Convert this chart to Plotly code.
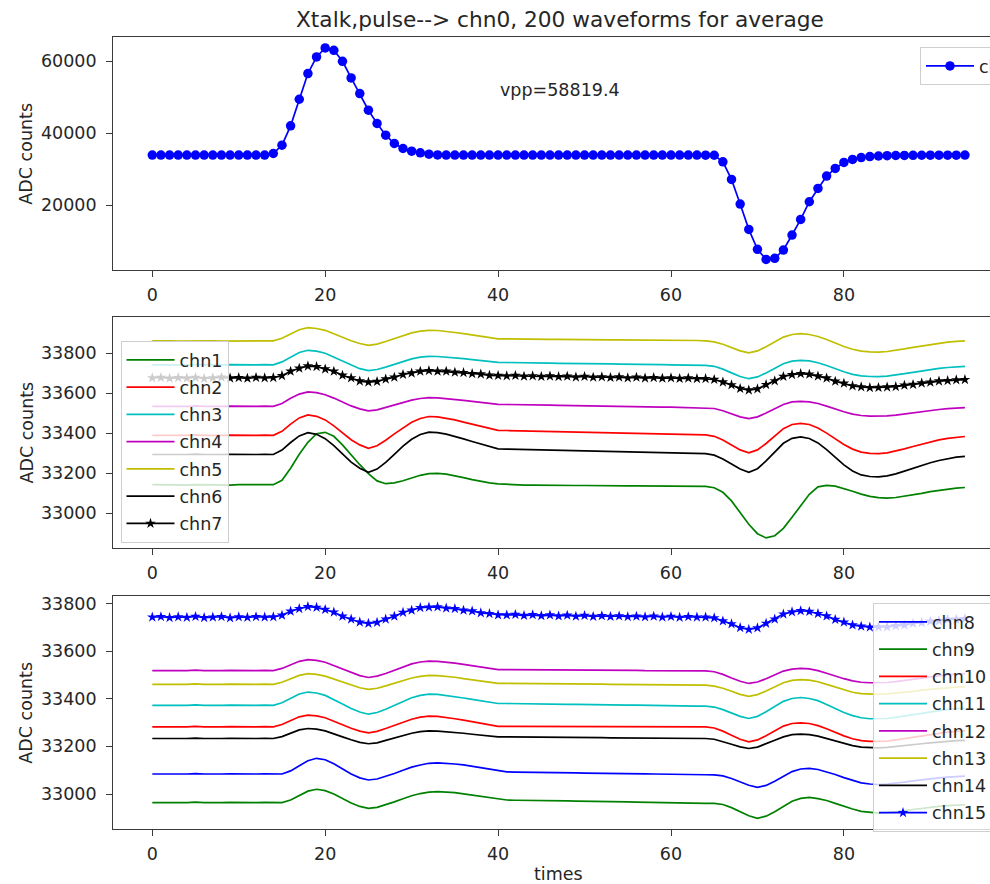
import plotly.graph_objects as go

# ---------------------------------------------------------------- data
times = list(range(95))

chn0 = [33900, 33905, 33898, 33902, 33900, 33897, 33903, 33900, 33899, 33901, 33904, 33898, 33900, 33902,
        34350, 36670, 42040, 49440, 56570, 61200, 63700.4, 63050, 60000, 55370, 51020, 46390, 42690, 39440,
        37130, 35740, 35000, 34540, 34170, 33950,
        33905, 33900, 33898, 33902, 33900, 33897, 33901, 33903, 33899, 33900, 33902, 33898, 33900, 33901,
        33899, 33903, 33900, 33898, 33902, 33900, 33899, 33901, 33897, 33900, 33902, 33900, 33898, 33901,
        33900, 33899, 33895,
        33860, 32040, 27130, 20280, 13240, 7690, 4881.0, 5190, 7500, 11670, 16020, 20930, 24630, 28060,
        30190, 31850, 32690, 33200, 33500, 33650,
        33740, 33790, 33820, 33845, 33860, 33872, 33880, 33888, 33893, 33896]

chn1 = [33143, 33142, 33144, 33142, 33141, 33143, 33142, 33144, 33142, 33141, 33143, 33142, 33142, 33143,
        33143, 33165, 33225, 33295, 33355, 33398, 33405, 33385, 33342, 33292, 33243, 33198, 33162, 33148,
        33152, 33163, 33177, 33190, 33198, 33200, 33196, 33188, 33178, 33168, 33159, 33152, 33147, 33144,
        33142,
        33141, 33141, 33140, 33140, 33140, 33139, 33139, 33139, 33138, 33138, 33138, 33138, 33137, 33137,
        33137, 33137, 33137, 33136, 33136, 33136, 33136,
        33135, 33128, 33105, 33062, 33005, 32945, 32898, 32877, 32888, 32925, 32980, 33040, 33095, 33132,
        33140, 33136, 33124, 33110, 33096, 33085, 33078, 33076, 33079, 33085, 33092, 33100, 33108, 33115,
        33121, 33126, 33129]

chn2 = [33390, 33391, 33389, 33390, 33390, 33392, 33390, 33389, 33390, 33391, 33390, 33389, 33390, 33391,
        33390, 33410, 33446, 33477, 33492,
        33485, 33467, 33437, 33402, 33368, 33342, 33325,
        33338, 33365, 33397, 33428, 33455, 33474, 33484,
        33482, 33476, 33467, 33456, 33445, 33434, 33424, 33415,
        33414, 33413, 33412, 33411, 33410, 33409, 33408, 33407, 33406, 33405, 33404, 33403, 33402, 33401,
        33400, 33399, 33398, 33397, 33396, 33395, 33394, 33393, 33393,
        33392,
        33385, 33367, 33342, 33317, 33302,
        33317, 33349, 33388, 33423, 33444, 33450,
        33444, 33427, 33401, 33371, 33344, 33321, 33306, 33300, 33298,
        33302, 33311, 33322, 33334, 33346, 33357, 33367, 33375, 33381, 33384]

chn3 = [33742, 33743, 33741, 33742, 33742, 33744, 33742, 33741, 33742, 33743, 33742, 33741, 33742, 33743,
        33742, 33757, 33782, 33804, 33815,
        33811, 33800, 33781, 33760, 33740, 33723, 33713,
        33719, 33731, 33745, 33760, 33772, 33781, 33785,
        33784, 33781, 33778, 33773, 33768, 33763, 33759, 33755,
        33754, 33754, 33753, 33752, 33752, 33751, 33750, 33750, 33749, 33749, 33748, 33747, 33747, 33746,
        33746, 33745, 33744, 33744, 33743, 33742, 33742, 33741, 33741,
        33740,
        33735, 33721, 33702, 33684, 33673,
        33682, 33702, 33726, 33748, 33761, 33765,
        33762, 33753, 33739, 33722, 33708, 33695, 33687, 33684, 33683,
        33686, 33691, 33698, 33705, 33712, 33719, 33725, 33729, 33733, 33735]

chn4 = [33535, 33536, 33534, 33535, 33535, 33537, 33535, 33534, 33535, 33536, 33535, 33534, 33535, 33536,
        33535, 33549, 33575, 33596, 33607,
        33603, 33593, 33576, 33556, 33537, 33522, 33512,
        33517, 33529, 33542, 33555, 33566, 33574, 33578,
        33577, 33574, 33570, 33565, 33560, 33554, 33549, 33545,
        33544, 33544, 33543, 33542, 33541, 33541, 33540, 33539, 33539, 33538, 33537, 33536, 33536, 33535,
        33534, 33534, 33533, 33532, 33531, 33531, 33530, 33529, 33529,
        33528,
        33524, 33513, 33497, 33482, 33473,
        33482, 33501, 33523, 33544, 33557, 33560,
        33557, 33549, 33536, 33521, 33508, 33496, 33489, 33486, 33485,
        33487, 33491, 33497, 33503, 33509, 33515, 33519, 33523, 33526, 33528]

chn5 = [33862, 33863, 33862, 33861, 33862, 33862, 33863, 33862, 33861, 33862, 33862, 33863, 33862, 33862,
        33862, 33875, 33898, 33918, 33928,
        33924, 33915, 33899, 33880, 33863, 33849, 33840,
        33846, 33859, 33874, 33889, 33902, 33911, 33915,
        33914, 33910, 33904, 33898, 33891, 33884, 33878, 33872,
        33872, 33871, 33871, 33871, 33870, 33870, 33870, 33869, 33869, 33869, 33868, 33868, 33867, 33867,
        33867, 33866, 33866, 33866, 33865, 33865, 33865, 33864, 33864,
        33862,
        33857, 33845, 33828, 33812, 33802,
        33812, 33833, 33858, 33881, 33894, 33898,
        33894, 33884, 33869, 33850, 33834, 33820, 33811, 33807, 33806,
        33809, 33814, 33822, 33830, 33837, 33845, 33851, 33856, 33860, 33862]

chn6 = [33294, 33295, 33293, 33294, 33294, 33296, 33294, 33293, 33294, 33295, 33294, 33293, 33294, 33295,
        33294, 33316, 33354, 33387, 33403,
        33395, 33373, 33338, 33296, 33256, 33225, 33205,
        33221, 33255, 33295, 33336, 33370, 33394, 33406,
        33403, 33396, 33385, 33372, 33359, 33346, 33333, 33322,
        33321, 33320, 33319, 33318, 33317, 33316, 33315, 33314, 33313, 33312, 33311, 33310, 33309, 33308,
        33307, 33306, 33305, 33304, 33303, 33302, 33301, 33300, 33299,
        33298,
        33291, 33272, 33246, 33221, 33205,
        33223, 33262, 33308, 33350, 33375, 33382,
        33374, 33352, 33318, 33278, 33242, 33212, 33192, 33184, 33182,
        33187, 33197, 33211, 33225, 33240, 33253, 33264, 33274, 33281, 33285]

chn7 = [33677, 33679, 33675, 33678, 33676, 33679, 33674, 33677, 33680, 33676, 33678, 33675, 33679, 33677,
        33678, 33688, 33710, 33725, 33736,
        33733, 33721, 33710, 33690, 33677, 33661, 33656,
        33659, 33671, 33680, 33694, 33701, 33710, 33713,
        33710, 33710, 33705, 33703, 33698, 33696, 33690, 33689,
        33687, 33689, 33685, 33687, 33684, 33686, 33683, 33685, 33681, 33684, 33680, 33682, 33679, 33681,
        33677, 33680, 33676, 33678, 33675, 33677, 33674, 33676, 33673,
        33673,
        33669, 33656, 33642, 33624, 33616,
        33622, 33643, 33662, 33684, 33693, 33698,
        33695, 33686, 33676, 33660, 33650, 33637, 33632, 33628, 33629,
        33631, 33633, 33640, 33644, 33651, 33655, 33661, 33663, 33667, 33668]

chn8 = [33084, 33085, 33083, 33084, 33084, 33086, 33084, 33083, 33084, 33085, 33084, 33083, 33084, 33085,
        33084,
        33084, 33097, 33120, 33140, 33150,
        33144, 33127, 33105, 33084, 33068, 33059,
        33063, 33073, 33086, 33100, 33113, 33122, 33129, 33131,
        33130, 33126, 33122, 33116, 33110, 33104, 33098, 33093,
        33092, 33092, 33091, 33091, 33090, 33090, 33089, 33089, 33088, 33088, 33087, 33087, 33086, 33086,
        33085, 33085, 33084, 33084, 33083, 33083, 33082, 33081, 33081,
        33080,
        33076, 33065, 33051, 33037, 33028,
        33036, 33054, 33074, 33094, 33105, 33108,
        33103, 33094, 33082, 33069, 33057, 33047, 33042, 33040,
        33042, 33045, 33050, 33055, 33060, 33064, 33068, 33071, 33074, 33075]

chn9 = [32964, 32965, 32963, 32964, 32964, 32966, 32964, 32963, 32964, 32965, 32964, 32963, 32964, 32965,
        32964,
        32964, 32975, 32995, 33012, 33020,
        33014, 33000, 32980, 32962, 32948, 32940,
        32944, 32954, 32967, 32980, 32993, 33002, 33008, 33010,
        33009, 33006, 33001, 32996, 32990, 32985, 32980, 32975,
        32974, 32974, 32973, 32973, 32972, 32971, 32971, 32970, 32970, 32969, 32968, 32968, 32967, 32967,
        32966, 32965, 32965, 32964, 32964, 32963, 32962, 32962, 32961,
        32961,
        32956, 32943, 32926, 32909, 32898,
        32907, 32926, 32949, 32970, 32982, 32986,
        32981, 32973, 32961, 32948, 32937, 32927, 32922, 32920,
        32922, 32925, 32930, 32935, 32940, 32944, 32948, 32951, 32954, 32955]

chn10 = [33282, 33283, 33281, 33282, 33282, 33284, 33282, 33281, 33282, 33283, 33282, 33281, 33282, 33283,
         33282, 33292, 33309, 33324, 33331,
         33328, 33320, 33307, 33291, 33276, 33264, 33257,
         33263, 33275, 33289, 33303, 33314, 33323, 33327,
         33326, 33322, 33316, 33310, 33303, 33296, 33290, 33284,
         33284, 33284, 33285, 33284, 33284, 33283, 33284, 33284, 33285, 33284, 33284, 33283, 33284, 33283,
         33283, 33284, 33283, 33283, 33282, 33283, 33283, 33282, 33283,
         33282,
         33277, 33264, 33247, 33230, 33219,
         33227, 33245, 33265, 33285, 33296, 33299,
         33296, 33287, 33274, 33258, 33244, 33232, 33224, 33221, 33220,
         33222, 33227, 33233, 33239, 33245, 33251, 33256, 33260, 33263, 33265]

chn11 = [33372, 33373, 33371, 33372, 33372, 33374, 33372, 33371, 33372, 33373, 33372, 33371, 33372, 33373,
         33372, 33383, 33403, 33420, 33428,
         33424, 33414, 33397, 33378, 33359, 33344, 33335,
         33342, 33356, 33373, 33390, 33404, 33414, 33419,
         33418, 33414, 33409, 33403, 33397, 33391, 33385, 33380,
         33380, 33379, 33379, 33378, 33378, 33377, 33377, 33376, 33376, 33375, 33375, 33375, 33374, 33374,
         33373, 33373, 33372, 33372, 33371, 33371, 33370, 33370, 33369,
         33369,
         33365, 33354, 33340, 33326, 33317,
         33326, 33345, 33368, 33389, 33401, 33405,
         33401, 33392, 33376, 33358, 33342, 33329, 33320, 33316, 33315,
         33317, 33322, 33328, 33334, 33340, 33346, 33351, 33355, 33358, 33360]

chn12 = [33518, 33519, 33517, 33518, 33518, 33520, 33518, 33517, 33518, 33519, 33518, 33517, 33518, 33519,
         33518, 33527, 33543, 33557, 33564,
         33561, 33553, 33539, 33524, 33509, 33497, 33489,
         33495, 33506, 33520, 33534, 33546, 33554, 33558,
         33557, 33554, 33549, 33544, 33538, 33532, 33527, 33522,
         33522, 33522, 33522, 33521, 33521, 33521, 33521, 33520, 33520, 33520, 33520, 33519, 33519, 33519,
         33519, 33519, 33518, 33518, 33518, 33518, 33517, 33517, 33517,
         33517,
         33513, 33502, 33487, 33473, 33464,
         33470, 33484, 33501, 33516, 33524, 33527,
         33525, 33518, 33507, 33495, 33484, 33475, 33469, 33467, 33466,
         33468, 33472, 33477, 33482, 33488, 33493, 33497, 33501, 33503, 33505]

chn13 = [33460, 33461, 33459, 33460, 33460, 33462, 33460, 33459, 33460, 33461, 33460, 33459, 33460, 33461,
         33460, 33469, 33485, 33498, 33505,
         33502, 33495, 33483, 33469, 33456, 33446, 33439,
         33444, 33454, 33466, 33477, 33487, 33494, 33498,
         33497, 33494, 33490, 33484, 33479, 33474, 33468, 33464,
         33464, 33464, 33463, 33463, 33463, 33462, 33462, 33462, 33462, 33461, 33461, 33461, 33460, 33460,
         33460, 33460, 33459, 33459, 33459, 33458, 33458, 33458, 33457,
         33457,
         33453, 33444, 33431, 33418, 33410,
         33417, 33432, 33451, 33467, 33477, 33480,
         33478, 33471, 33460, 33448, 33437, 33427, 33421, 33419, 33418,
         33420, 33423, 33427, 33431, 33436, 33440, 33444, 33446, 33449, 33450]

chn14 = [33233, 33234, 33232, 33233, 33233, 33235, 33233, 33232, 33233, 33234, 33233, 33232, 33233, 33234,
         33233, 33241, 33256, 33269, 33275,
         33272, 33265, 33254, 33240, 33228, 33217, 33211,
         33215, 33225, 33235, 33246, 33255, 33262, 33265,
         33264, 33262, 33259, 33255, 33251, 33247, 33243, 33240,
         33240, 33240, 33239, 33239, 33239, 33238, 33238, 33238, 33238, 33237, 33237, 33237, 33236, 33236,
         33236, 33236, 33235, 33235, 33235, 33234, 33234, 33234, 33233,
         33233,
         33230, 33221, 33209, 33198, 33191,
         33197, 33210, 33226, 33240, 33249, 33251,
         33249, 33243, 33233, 33221, 33211, 33203, 33197, 33195, 33194,
         33196, 33199, 33203, 33207, 33211, 33215, 33219, 33222, 33224, 33225]

chn15 = [33742, 33744, 33740, 33743, 33741, 33745, 33740, 33742, 33744, 33739, 33743, 33741, 33744, 33742,
         33743, 33750, 33767, 33778, 33786,
         33783, 33774, 33763, 33746, 33734, 33721, 33716,
         33720, 33734, 33746, 33762, 33771, 33782, 33784,
         33785, 33780, 33778, 33771, 33768, 33760, 33757, 33751,
         33751, 33753, 33749, 33752, 33748, 33751, 33747, 33750, 33746, 33749, 33745, 33748, 33745, 33747,
         33744, 33746, 33743, 33746, 33742, 33745, 33741, 33744, 33742,
         33742,
         33739, 33726, 33714, 33698, 33691,
         33697, 33716, 33734, 33755, 33764, 33769,
         33766, 33757, 33747, 33732, 33721, 33709, 33704, 33700, 33701,
         33701, 33706, 33709, 33716, 33719, 33725, 33727, 33732, 33733, 33736]

top_names = ["chn0"]
mid_names = ["chn1", "chn2", "chn3", "chn4", "chn5", "chn6", "chn7"]
bot_names = ["chn8", "chn9", "chn10", "chn11", "chn12", "chn13", "chn14", "chn15"]
mid_series = [chn1, chn2, chn3, chn4, chn5, chn6, chn7]
bot_series = [chn8, chn9, chn10, chn11, chn12, chn13, chn14, chn15]

for name, s in zip(top_names + mid_names + bot_names, [chn0] + mid_series + bot_series):
    if len(s) != len(times):
        raise ValueError(f"{name}: {len(s)} samples, expected {len(times)}")

# ---------------------------------------------------------------- style
W, H = 990, 884
FONT = "DejaVu Sans"
TXT = "#262626"
SPINE = "#3a3a3a"
FS = 17.5          # tick / label / legend text
FS_TITLE = 21.7

# matplotlib "classic" single-letter colours
C = {"b": "#0000ff", "g": "#008000", "r": "#ff0000", "c": "#00bfbf",
     "m": "#bf00bf", "y": "#bfbf00", "k": "#000000"}
mid_colors = [C["g"], C["r"], C["c"], C["m"], C["y"], C["k"], C["k"]]
bot_colors = [C["b"], C["g"], C["r"], C["c"], C["m"], C["y"], C["k"], C["b"]]


def ydom(top_px, bottom_px):
    return [1 - bottom_px / H, 1 - top_px / H]


X_LEFT = 113.3
X_RANGE = [-4.51, 96.9]
panels = {
    "top": dict(px=(37.3, 270.0), yr=[1944, 66667], tv=[20000, 40000, 60000]),
    "mid": dict(px=(316.7, 548.3), yr=[32825, 33983], tv=[33000, 33200, 33400, 33600, 33800]),
    "bot": dict(px=(596.0, 829.3), yr=[32852, 33831], tv=[33000, 33200, 33400, 33600, 33800]),
}

fig = go.Figure()

# top panel: the pulsed channel
fig.add_trace(go.Scatter(
    x=times, y=chn0, name="chn0", mode="lines+markers",
    line=dict(color=C["b"], width=1.7),
    marker=dict(symbol="circle", size=9.5, color=C["b"]),
    xaxis="x", yaxis="y", legend="legend", legendgroup="chn0"))

# middle panel: channels 1-7
for name, s, col in zip(mid_names, mid_series, mid_colors):
    starred = name == "chn7"
    fig.add_trace(go.Scatter(
        x=times, y=s, name=name, mode="lines+markers" if starred else "lines",
        line=dict(color=col, width=1.7),
        marker=dict(symbol="star", size=8, color=col) if starred else None,
        xaxis="x2", yaxis="y2", legend="legend2", legendgroup=name))

# bottom panel: channels 8-15
for name, s, col in zip(bot_names, bot_series, bot_colors):
    starred = name == "chn15"
    fig.add_trace(go.Scatter(
        x=times, y=s, name=name, mode="lines+markers" if starred else "lines",
        line=dict(color=col, width=1.7),
        marker=dict(symbol="star", size=8, color=col) if starred else None,
        xaxis="x3", yaxis="y3", legend="legend3", legendgroup=name))

tickfont = dict(family=FONT, size=FS, color=TXT)
common_x = dict(domain=[X_LEFT / W, 1], range=X_RANGE, tickvals=[0, 20, 40, 60, 80],
                showline=True, mirror=True, linecolor=SPINE, linewidth=1.3,
                ticks="outside", ticklen=6, tickwidth=1.2, tickcolor=SPINE,
                showgrid=False, zeroline=False, tickfont=tickfont, ticklabelstandoff=3)
common_y = dict(showline=True, mirror=False, linecolor=SPINE, linewidth=1.3,
                ticks="outside", ticklen=6, tickwidth=1.2, tickcolor=SPINE,
                showgrid=False, zeroline=False, tickfont=tickfont, tickformat="d",
                ticklabelstandoff=6)

layout = dict(width=W, height=H, margin=dict(l=0, r=0, t=0, b=0, autoexpand=False),
              paper_bgcolor="white", plot_bgcolor="white", showlegend=True,
              font=dict(family=FONT, color=TXT))

for i, key in enumerate(["top", "mid", "bot"], start=1):
    p = panels[key]
    sx = "" if i == 1 else str(i)
    layout["xaxis" + sx] = dict(common_x, anchor="y" + sx)
    layout["yaxis" + sx] = dict(common_y, domain=ydom(*p["px"]), range=p["yr"],
                                tickvals=p["tv"], anchor="x" + sx)

legend_common = dict(bgcolor="rgba(255,255,255,0.8)", bordercolor="#cfcfcf", borderwidth=1,
                     font=dict(family=FONT, size=FS, color=TXT), itemwidth=48,
                     xanchor="left", yanchor="top", traceorder="grouped",
                     tracegroupgap=1.5, itemclick=False)
layout["legend"] = dict(legend_common, x=920 / W, y=1 - 47 / H)
layout["legend2"] = dict(legend_common, x=120.5 / W, y=1 - 341 / H)
layout["legend3"] = dict(legend_common, x=873 / W, y=1 - 603 / H)

vpp = max(chn0) - min(chn0)
annotations = [
    dict(text="Xtalk,pulse--> chn0, 200 waveforms for average", xref="paper", yref="paper",
         x=560 / W, y=1 - 19 / H, xanchor="center", yanchor="middle", showarrow=False,
         font=dict(family=FONT, size=FS_TITLE, color=TXT)),
    dict(text="times", xref="paper", yref="paper", x=558 / W, y=1 - 874 / H,
         xanchor="center", yanchor="middle", showarrow=False,
         font=dict(family=FONT, size=FS, color=TXT)),
    dict(text=f"vpp={vpp:.1f}", xref="x", yref="y", x=40, y=51900,
         xanchor="left", yanchor="middle", showarrow=False,
         font=dict(family=FONT, size=FS, color=TXT)),
]
for key in ["top", "mid", "bot"]:
    t, b = panels[key]["px"]
    annotations.append(dict(text="ADC counts", xref="paper", yref="paper",
                            x=26 / W, y=1 - (t + b) / 2 / H, textangle=-90,
                            xanchor="center", yanchor="middle", showarrow=False,
                            font=dict(family=FONT, size=FS, color=TXT)))
layout["annotations"] = annotations

fig.update_layout(**layout)
fig.write_html("out.html")
